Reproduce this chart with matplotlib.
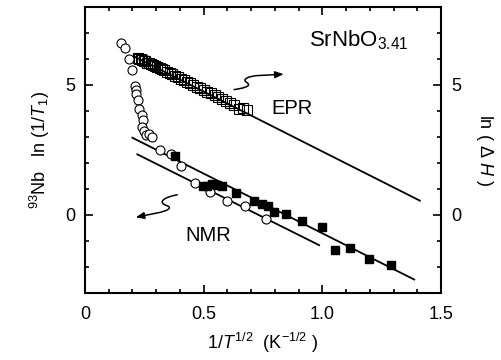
import matplotlib
matplotlib.use("Agg")
import matplotlib.pyplot as plt
from matplotlib.path import Path
from matplotlib.patches import FancyArrowPatch
from matplotlib.ticker import MultipleLocator

plt.rcParams["font.family"] = ["Liberation Sans", "DejaVu Sans"]
plt.rcParams["mathtext.fontset"] = "custom"
plt.rcParams["mathtext.rm"] = "Liberation Sans"
plt.rcParams["mathtext.it"] = "Liberation Sans:italic"

# NMR: open circles
nmr_open_x = [0.153, 0.169, 0.185, 0.200, 0.211, 0.214, 0.215, 0.223, 0.230, 0.239,
              0.243, 0.242, 0.249, 0.257, 0.271, 0.281, 0.316, 0.362, 0.406, 0.465,
              0.525, 0.597, 0.674, 0.764]
nmr_open_y = [6.60, 6.42, 6.00, 5.59, 4.97, 4.82, 4.65, 4.42, 4.07, 3.85,
              3.66, 3.40, 3.23, 3.06, 3.10, 3.01, 2.49, 2.33, 1.87, 1.23,
              0.88, 0.55, 0.36, -0.16]

# NMR: filled squares
nmr_fill_x = [0.378, 0.499, 0.513, 0.537, 0.558, 0.579, 0.635, 0.712, 0.747, 0.771,
              0.797, 0.846, 0.913, 1.000, 1.054, 1.117, 1.197, 1.288]
nmr_fill_y = [2.26, 1.10, 1.12, 1.19, 1.14, 1.10, 0.84, 0.54, 0.41, 0.36,
              0.10, 0.03, -0.23, -0.48, -1.36, -1.27, -1.68, -1.91]

# EPR: open squares
epr_x = [0.222, 0.228, 0.235, 0.241, 0.248, 0.255, 0.262, 0.270, 0.278, 0.287,
         0.296, 0.305, 0.315, 0.325, 0.335, 0.346, 0.357, 0.368, 0.380, 0.392,
         0.404, 0.417, 0.430, 0.443, 0.457, 0.471, 0.485, 0.500, 0.515, 0.530,
         0.546, 0.562, 0.578, 0.595, 0.612, 0.629, 0.647, 0.665, 0.683]
epr_y = [6.02, 6.00, 5.98, 5.95, 5.92, 5.90, 5.86, 5.83, 5.80, 5.76,
         5.73, 5.68, 5.65, 5.60, 5.57, 5.50, 5.46, 5.41, 5.36, 5.30,
         5.24, 5.20, 5.12, 5.06, 5.00, 4.92, 4.87, 4.80, 4.73, 4.68,
         4.60, 4.52, 4.45, 4.38, 4.32, 4.22, 4.07, 4.12, 4.05]

# fitted lines
epr_fit_x = [0.21, 1.41]
epr_fit_y = [6.08, 0.55]
nmr_fit1_x = [0.20, 1.386]
nmr_fit1_y = [2.97, -2.48]
nmr_fit2_x = [0.221, 0.986]
nmr_fit2_y = [2.33, -1.16]

fig = plt.figure(figsize=(5.02, 3.6), dpi=100)
ax = fig.add_axes([0.169, 0.186, 0.710, 0.795])

ax.plot(epr_fit_x, epr_fit_y, color="black", lw=1.3)
ax.plot(nmr_fit1_x, nmr_fit1_y, color="black", lw=1.3)
ax.plot(nmr_fit2_x, nmr_fit2_y, color="black", lw=1.3)

ax.plot(epr_x, epr_y, ls="none", marker="s", ms=6.5, mfc="none", mec="black", mew=0.8)
ax.plot(nmr_open_x, nmr_open_y, ls="none", marker="o", ms=6.5, mfc="white", mec="black", mew=0.8)
ax.plot(nmr_fill_x, nmr_fill_y, ls="none", marker="s", ms=6, mfc="black", mec="black")

ax.set_xlim(0, 1.5)
ax.set_ylim(-3, 8)
ax.set_xticks([0, 0.5, 1.0, 1.5])
ax.set_xticklabels(["0", "0.5", "1.0", "1.5"])
ax.xaxis.set_minor_locator(MultipleLocator(0.1))
ax.set_yticks([0, 5])
ax.yaxis.set_minor_locator(MultipleLocator(1))
ax.tick_params(which="both", direction="in", top=True, right=True,
               labelright=True, labelsize=13, width=1.2)
ax.tick_params(which="major", length=6)
ax.tick_params(axis="x", which="major", pad=9)
ax.tick_params(axis="y", which="major", pad=7)
ax.tick_params(which="minor", length=3)
for s in ax.spines.values():
    s.set_linewidth(1.5)

ax.set_xlabel(r"1/$\it{T}$$^{\,1/2}$  (K$^{-1/2}$ )", fontsize=13, labelpad=6)
ax.set_ylabel(r"$^{93}$Nb   ln (1/$\it{T}_1$)", fontsize=13, labelpad=9)
ax.text(1.12, 0.5, r"ln ( $\Delta$ $\it{H}$ )", transform=ax.transAxes,
        rotation=-90, ha="center", va="center", fontsize=13)

ax.text(0.943, 6.47, r"SrNbO$_{3.41}$", fontsize=16, va="baseline")
ax.text(0.783, 3.88, "EPR", fontsize=14.5, va="baseline")
ax.text(0.424, -1.0, "NMR", fontsize=14.5, va="baseline")

# curly arrows
up = Path([(0.628, 4.82), (0.66, 4.86), (0.71, 4.95), (0.68, 5.10),
           (0.66, 5.22), (0.69, 5.34), (0.73, 5.36), (0.837, 5.41)],
          [Path.MOVETO, Path.CURVE4, Path.CURVE4, Path.CURVE4,
           Path.CURVE4, Path.CURVE4, Path.CURVE4, Path.LINETO])
low = Path([(0.389, 0.775), (0.34, 0.70), (0.30, 0.50), (0.345, 0.36),
            (0.37, 0.28), (0.35, 0.15), (0.30, 0.07), (0.214, -0.09)],
           [Path.MOVETO, Path.CURVE4, Path.CURVE4, Path.CURVE4,
            Path.CURVE4, Path.CURVE4, Path.CURVE4, Path.LINETO])
for p in (up, low):
    ax.add_patch(FancyArrowPatch(path=p, arrowstyle="-|>,head_length=0.5,head_width=0.2",
                                 mutation_scale=10, color="black", lw=1.1,
                                 transform=ax.transData))

fig.savefig("out.png", dpi=100)
